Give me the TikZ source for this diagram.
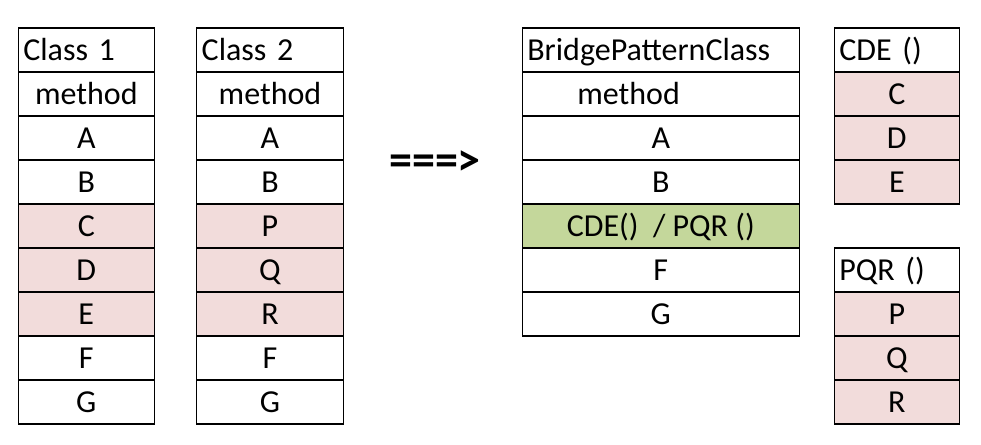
\documentclass[tikz,border=0pt]{standalone}
\usepackage{fontspec}
\setmainfont{Carlito}
\definecolor{pinkcell}{HTML}{F2DCDB}
\definecolor{greencell}{HTML}{C4D79B}
\tikzset{
  cell/.style={draw=black, line width=1.3pt, fill=white, inner sep=0pt,
    minimum height=44pt, text height=20.6pt, text depth=0pt,
    font=\fontsize{32}{38}\selectfont},
  pinkc/.style={cell, fill=pinkcell},
  greenc/.style={cell, fill=greencell},
  headc/.style={cell, align=left, inner xsep=5pt},
  arrowtext/.style={inner sep=0pt, font=\bfseries\fontsize{46}{50}\selectfont}
}
\begin{document}
\begin{tikzpicture}[x=1pt,y=-1pt]
\useasboundingbox[fill=white] (0,0) rectangle (981,444);
% Class 1
\begin{scope}[every node/.append style={minimum width=136pt}]
\node[headc, text width=126pt] (c1h) at (86.3,50) {Class 1};
\node[cell] (c1m) at (86.3,94) {method};
\node[cell] (c1a) at (86.3,138) {A};
\node[cell] (c1b) at (86.3,182) {B};
\node[pinkc] (c1c) at (86.3,226) {C};
\node[pinkc] (c1d) at (86.3,270) {D};
\node[pinkc] (c1e) at (86.3,314) {E};
\node[cell] (c1f) at (86.3,358) {F};
\node[cell] (c1g) at (86.3,402) {G};
\end{scope}
% Class 2
\begin{scope}[every node/.append style={minimum width=146.6pt}]
\node[headc, text width=136.6pt] (c2h) at (270,50) {Class 2};
\node[cell] (c2m) at (270,94) {method};
\node[cell] (c2a) at (270,138) {A};
\node[cell] (c2b) at (270,182) {B};
\node[pinkc] (c2p) at (270,226) {P};
\node[pinkc] (c2q) at (270,270) {Q};
\node[pinkc] (c2r) at (270,314) {R};
\node[cell] (c2f) at (270,358) {F};
\node[cell] (c2g) at (270,402) {G};
\end{scope}
% arrow text
\node[arrowtext, anchor=west] (arr) at (389,163) {===>};
% Bridge
\begin{scope}[every node/.append style={minimum width=277pt}]
\node[headc, text width=267pt] (bh) at (660.8,50) {BridgePatternClass};
\node[headc, text width=267pt] (bm) at (660.8,94) {\hspace*{50pt}method};
\node[cell] (ba) at (660.8,138) {A};
\node[cell] (bb) at (660.8,182) {B};
\node[greenc] (bx) at (660.8,226) {CDE()\ \ / PQR ()};
\node[cell] (bf) at (660.8,270) {F};
\node[cell] (bg) at (660.8,314) {G};
\end{scope}
% CDE
\begin{scope}[every node/.append style={minimum width=125pt}]
\node[headc, text width=115pt] (ch) at (896.8,50) {CDE ()};
\node[pinkc] (cc) at (896.8,94) {C};
\node[pinkc] (cd) at (896.8,138) {D};
\node[pinkc] (ce) at (896.8,182) {E};
% PQR
\node[headc, text width=115pt] (ph) at (896.8,270) {PQR ()};
\node[pinkc] (pp) at (896.8,314) {P};
\node[pinkc] (pq) at (896.8,358) {Q};
\node[pinkc] (pr) at (896.8,402) {R};
\end{scope}
\end{tikzpicture}
\end{document}
